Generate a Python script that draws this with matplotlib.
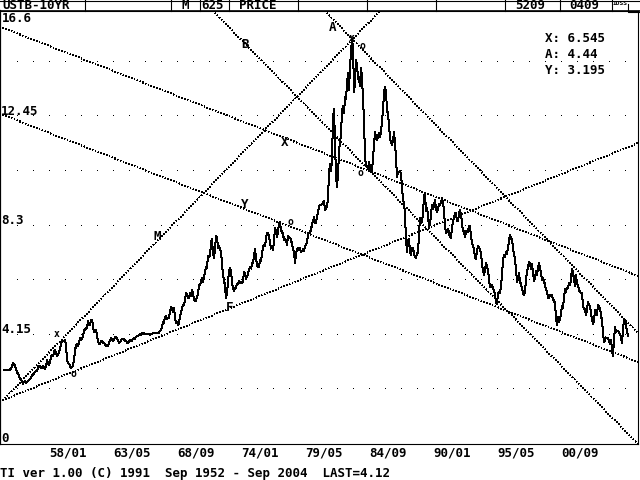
import numpy as np
import matplotlib.pyplot as plt

# Monthly USTB-10YR yield, Sep 1952 - Sep 2004 (625 months)
yld_50s = [2.80, 2.80, 2.80, 2.80, 2.81, 2.82, 2.83,
           2.85, 2.95, 3.08, 3.05, 2.95, 2.87, 2.70, 2.68, 2.59,
           2.48, 2.47, 2.37, 2.29, 2.37, 2.38, 2.30, 2.36, 2.38, 2.43, 2.48, 2.51,
           2.61, 2.65, 2.68, 2.75, 2.76, 2.78, 2.90, 2.97, 2.97, 2.88, 2.89, 2.96,
           2.90, 2.84, 2.96, 3.18, 3.07, 3.00, 3.11, 3.33, 3.38, 3.34, 3.49, 3.59,
           3.46, 3.34, 3.41, 3.48, 3.60, 3.80, 3.93, 3.93, 3.92, 3.97, 3.72, 3.21,
           3.09, 3.05, 2.98, 2.88, 2.92, 2.97, 3.20, 3.54, 3.76, 3.80, 3.74, 3.86,
           4.02, 3.96, 3.99, 4.12, 4.31, 4.34, 4.40, 4.43, 4.68, 4.53, 4.53, 4.69]
yld_60s = [4.72, 4.49, 4.25, 4.28, 4.35, 4.15, 3.90, 3.80, 3.80, 3.89, 3.93, 3.84,
           3.84, 3.78, 3.74, 3.78, 3.71, 3.88, 3.92, 4.04, 3.98, 3.92, 3.94, 4.06,
           4.08, 4.04, 3.93, 3.84, 3.87, 3.91, 4.01, 3.98, 3.98, 3.93, 3.92, 3.86,
           3.83, 3.92, 3.93, 3.97, 3.93, 3.99, 4.02, 4.00, 4.08, 4.11, 4.12, 4.13,
           4.17, 4.15, 4.22, 4.23, 4.20, 4.17, 4.19, 4.19, 4.20, 4.19, 4.15, 4.18,
           4.19, 4.21, 4.21, 4.20, 4.21, 4.21, 4.20, 4.25, 4.29, 4.35, 4.45, 4.62,
           4.61, 4.83, 4.87, 4.75, 4.78, 4.81, 5.02, 5.22, 5.18, 5.01, 5.16, 4.84,
           4.58, 4.63, 4.54, 4.59, 4.85, 5.02, 5.16, 5.28, 5.30, 5.48, 5.75, 5.70,
           5.53, 5.56, 5.74, 5.64, 5.87, 5.72, 5.50, 5.42, 5.46, 5.58, 5.70, 6.03,
           6.04, 6.19, 6.30, 6.17, 6.32, 6.57, 6.72, 6.69, 7.16, 7.10, 7.14, 7.65]
yld_70s = [7.79, 7.24, 7.07, 7.39, 7.91, 7.84, 7.46, 7.53, 7.39, 7.33, 6.84, 6.39,
           6.24, 6.00, 5.53, 5.73, 6.19, 6.54, 6.70, 6.58, 6.14, 5.93, 5.81, 5.93,
           5.95, 6.08, 6.07, 6.19, 6.13, 6.11, 6.11, 6.21, 6.55, 6.48, 6.28, 6.36,
           6.46, 6.64, 6.71, 6.67, 6.85, 6.90, 7.13, 7.40, 7.09, 6.79, 6.73, 6.74,
           6.99, 6.96, 7.21, 7.51, 7.58, 7.54, 7.81, 8.04, 8.04, 7.90, 7.68, 7.43,
           7.50, 7.39, 7.73, 8.23, 8.06, 7.86, 8.06, 8.40, 8.43, 8.14, 8.05, 8.00,
           7.74, 7.79, 7.73, 7.56, 7.90, 7.86, 7.83, 7.77, 7.59, 7.41, 7.29, 6.87,
           7.21, 7.39, 7.46, 7.37, 7.46, 7.28, 7.33, 7.40, 7.34, 7.52, 7.58, 7.69,
           7.96, 8.03, 8.04, 8.15, 8.35, 8.46, 8.64, 8.41, 8.42, 8.64, 8.81, 9.01,
           9.10, 9.10, 9.12, 9.18, 9.25, 8.91, 8.95, 9.03, 9.33, 10.30, 10.65, 10.39]
yld_80s = [10.80, 12.41, 12.75, 11.47, 10.18, 9.78, 10.25, 11.10, 11.51, 11.75, 12.68, 12.84,
           12.57, 13.19, 13.12, 13.68, 14.10, 13.47, 14.28, 14.94, 15.32, 15.15, 13.39, 13.72,
           14.59, 14.43, 13.86, 13.87, 13.62, 14.30, 13.95, 13.06, 12.34, 10.91, 10.55, 10.54,
           10.46, 10.72, 10.51, 10.40, 10.38, 10.85, 11.38, 11.85, 11.65, 11.54, 11.69, 11.83,
           11.67, 11.84, 12.32, 12.63, 13.41, 13.56, 13.36, 12.72, 12.52, 12.16, 11.57, 11.50,
           11.38, 11.51, 11.86, 11.43, 10.85, 10.16, 10.31, 10.33, 10.37, 10.24, 9.78, 9.26,
           9.19, 8.70, 7.78, 7.30, 7.71, 7.80, 7.30, 7.17, 7.45, 7.43, 7.25, 7.11,
           7.08, 7.25, 7.25, 8.02, 8.61, 8.40, 8.45, 8.76, 9.42, 9.52, 8.86, 8.99,
           8.67, 8.21, 8.37, 8.72, 9.09, 8.92, 9.06, 9.26, 8.98, 8.80, 8.96, 9.11,
           9.09, 9.17, 9.36, 9.18, 8.86, 8.28, 8.02, 8.11, 8.19, 8.01, 7.87, 7.84]
yld_90s = [8.21, 8.47, 8.59, 8.79, 8.76, 8.48, 8.47, 8.75, 8.89, 8.72, 8.39, 8.08,
           8.09, 7.85, 8.11, 8.04, 8.07, 8.28, 8.27, 7.90, 7.65, 7.53, 7.42, 7.09,
           7.03, 7.34, 7.54, 7.48, 7.39, 7.26, 6.84, 6.59, 6.42, 6.59, 6.87, 6.77,
           6.60, 6.26, 5.98, 5.97, 6.04, 5.96, 5.81, 5.68, 5.36, 5.33, 5.72, 5.77,
           5.75, 5.97, 6.48, 6.97, 7.18, 7.10, 7.30, 7.24, 7.46, 7.74, 7.96, 7.81,
           7.78, 7.47, 7.20, 7.06, 6.63, 6.17, 6.28, 6.49, 6.20, 6.04, 5.93, 5.71,
           5.65, 5.81, 6.27, 6.51, 6.74, 6.91, 6.87, 6.64, 6.83, 6.53, 6.20, 6.30,
           6.58, 6.42, 6.69, 6.89, 6.71, 6.49, 6.22, 6.30, 6.21, 6.03, 5.88, 5.81,
           5.54, 5.57, 5.65, 5.64, 5.65, 5.50, 5.46, 5.34, 4.81, 4.53, 4.83, 4.65,
           4.72, 5.00, 5.23, 5.18, 5.54, 5.90, 5.79, 5.94, 5.92, 6.11, 6.03, 6.28]
yld_00s = [6.66, 6.52, 6.26, 5.99, 6.44, 6.10, 6.05, 5.83, 5.80, 5.74, 5.72, 5.24,
           5.16, 5.10, 4.89, 5.14, 5.39, 5.28, 5.24, 4.97, 4.73, 4.57, 4.65, 5.09,
           5.04, 4.91, 5.28, 5.21, 5.16, 4.93, 4.65, 4.26, 3.87, 3.94, 4.05, 4.03,
           4.05, 3.90, 3.81, 3.96, 3.57, 3.33, 3.98, 4.45, 4.27, 4.29, 4.30, 4.27,
           4.15, 4.08, 3.83, 4.35, 4.72, 4.73, 4.50, 4.28, 4.12]

yields = yld_50s + yld_60s + yld_70s + yld_80s + yld_90s + yld_00s
months = np.arange(len(yields))

# x axis labels (month index from Sep 1952)
tick_pos = [64, 128, 192, 256, 320, 384, 448, 512, 576]
tick_lbl = ['58/01', '63/05', '68/09', '74/01', '79/05', '84/09', '90/01', '95/05', '00/09']

# price scale labels
y_vals = [0, 4.15, 8.3, 12.45, 16.6]
y_lbls = ['0', '4.15', '8.3', '12.45', '16.6']

# trend lines, endpoints as (month, value)
trend_x = [[-1, 634], [-1, 634], [209, 634], [321, 634], [-1, 376], [-1, 634]]
trend_y = [[15.82, 6.39], [12.51, 3.12], [16.46, 0.0], [16.46, 4.22], [1.67, 16.46], [1.67, 11.44]]

# pivot marks and line names
mark_x = [53, 69, 286, 348, 358, 356]
mark_y = [4.18, 2.66, 8.44, 15.44, 15.13, 10.30]
mark_txt = ['x', 'o', 'o', 'x', 'o', 'o']
name_x = [329, 241, 281, 241, 153, 226]
name_y = [15.82, 15.17, 11.48, 9.09, 7.87, 5.17]
name_txt = ['A', 'B', 'X', 'Y', 'M', 'F']

info_txt = ['X: 6.545', 'A: 4.44', 'Y: 3.195']

MONO = 'DejaVu Sans Mono'
FS = 9

fig = plt.figure(figsize=(6.4, 4.8), dpi=100)
ax = fig.add_axes([0 / 640, 36 / 480, 638 / 640, 433 / 480])
ax.set_xlim(-4, 634)
ax.set_ylim(0, 16.46)

# dotted grid: one dot every 16 px on each price step
grid_x = np.arange(1, 40) * 16 - 3
for k in range(1, 8):
    gy = 2.075 * k
    ax.plot(grid_x, [gy] * len(grid_x), ',', color='black')

for tx, ty in zip(trend_x, trend_y):
    ax.plot(tx, ty, color='black', lw=0.7, linestyle=(0, (1, 2.5)),
            antialiased=False)

ax.plot(months, yields, color='black', lw=0.72, antialiased=False)

for mx, my, mt in zip(mark_x, mark_y, mark_txt):
    ax.text(mx, my, mt, fontsize=7, family=MONO, weight='bold',
            ha='center', va='center')
for nx, ny, nt in zip(name_x, name_y, name_txt):
    ax.text(nx, ny, nt, fontsize=FS, family=MONO, weight='bold',
            ha='center', va='center')

for v, lb in zip(y_vals, y_lbls):
    if v >= 16:
        ax.text(2 / 638, 0.998, lb, transform=ax.transAxes, fontsize=FS,
                family=MONO, weight='bold', ha='left', va='top')
    else:
        ax.text(-3, v + 0.06, lb, fontsize=FS, family=MONO, weight='bold',
                ha='left', va='baseline')

ax.set_xticks(tick_pos)
ax.set_xticklabels(tick_lbl, fontsize=FS, family=MONO, weight='bold')
ax.set_yticks([])
ax.tick_params(axis='x', length=0, pad=2)

ax.spines['left'].set_linewidth(1.6)
ax.spines['bottom'].set_linewidth(0.8)
ax.spines['right'].set_linewidth(0.8)
ax.spines['top'].set_linewidth(0.8)

# header bar and footer, drawn in pixel space
over = fig.add_axes([0, 0, 1, 1], facecolor='none')
over.set_xlim(0, 640)
over.set_ylim(480, 0)
over.axis('off')
over.plot([0, 640], [0.5, 0.5], color='black', lw=0.8)
over.plot([0, 640], [10.5, 10.5], color='black', lw=1.2)
for dx in [84.5, 170.5, 199.5, 228.5, 297.5, 366.5, 435.5, 504.5, 559.5, 611.5]:
    over.plot([dx, dx], [0, 10.5], color='black', lw=0.8)
over.plot([627.5, 627.5, 639.5], [4, 12, 12], color='black', lw=0.8)

hdr = [(2, 'USTB-10YR'), (182, 'M'), (201, '625'), (239, 'PRICE'),
       (515, '5209'), (569, '0409')]
for hx, ht in hdr:
    over.text(hx, 5.5, ht, fontsize=FS, family=MONO, weight='bold',
              ha='left', va='center')
over.text(613, 3.5, 'IDSS', fontsize=4.5, family=MONO, weight='bold',
          ha='left', va='center')

for i, t in enumerate(info_txt):
    over.text(545, 38 + i * 16.5, t, fontsize=FS, family=MONO, weight='bold',
              ha='left', va='center')

over.text(0, 473, 'TI ver 1.00 (C) 1991  Sep 1952 - Sep 2004  LAST=4.12',
          fontsize=FS, family=MONO, weight='bold', ha='left', va='center')

fig.savefig('out.png', dpi=100, facecolor='white')
